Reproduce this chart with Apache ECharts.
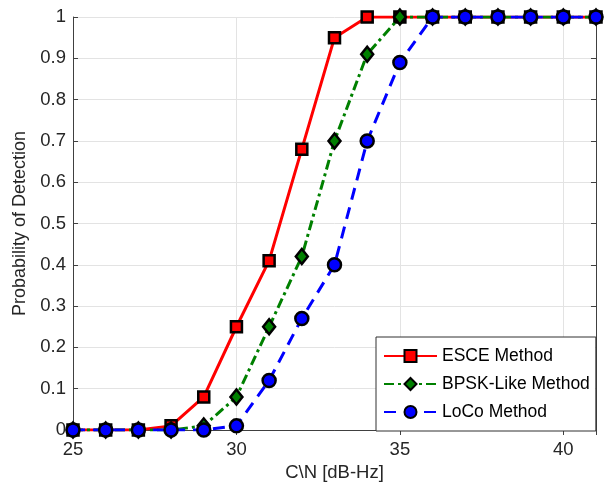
<!DOCTYPE html>
<html>
<head>
<meta charset="utf-8">
<script src="https://cdn.jsdelivr.net/npm/echarts@6/dist/echarts.min.js"></script>
<style>html,body{margin:0;padding:0;background:#fff}#c{width:612px;height:488px}</style>
</head>
<body>
<div id="c"></div>
<script>
const cn = [25,26,27,28,29,30,31,32,33,34,35,36,37,38,39,40,41];
const esce = [0,0,0,0.01,0.08,0.25,0.41,0.68,0.95,1,1,1,1,1,1,1,1];
const bpsk = [0,0,0,0,0.01,0.08,0.25,0.42,0.70,0.91,1,1,1,1,1,1,1];
const loco = [0,0,0,0,0,0.01,0.12,0.27,0.40,0.70,0.89,1,1,1,1,1,1];
const seriesNames = ['ESCE Method','BPSK-Like Method','LoCo Method'];
const xLabel = 'C\\N [dB-Hz]';
const yLabel = 'Probability of Detection';

const font = 'Liberation Sans, Arial, sans-serif';
const chart = echarts.init(document.getElementById('c'), null, {renderer:'canvas'});
function pts(arr){ return cn.map((x,i)=>[x,arr[i]]); }
const axisCommon = {
  axisLine:{show:true,lineStyle:{color:'#404040',width:1}},
  axisTick:{show:true,inside:true,length:5,lineStyle:{color:'#404040'}},
};
chart.setOption({
  animation:false,
  backgroundColor:'#fff',
  grid:{left:73,right:16,top:17,bottom:58,containLabel:false},
  xAxis:[{
    type:'value',min:25,max:41,interval:5,
    name:xLabel,nameLocation:'middle',nameGap:32,
    nameTextStyle:{fontFamily:font,fontSize:18.5,color:'#262626'},
    axisLabel:{fontFamily:font,fontSize:18.5,color:'#262626',showMaxLabel:false,margin:10},
    splitLine:{show:true,lineStyle:{color:'#e3e3e3',width:1}},
    ...axisCommon
  },{
    type:'value',min:25,max:41,interval:5,position:'top',
    axisLabel:{show:false},splitLine:{show:false},
    ...axisCommon
  }],
  yAxis:[{
    type:'value',min:0,max:1,interval:0.1,
    name:yLabel,nameLocation:'middle',nameGap:42,
    nameTextStyle:{fontFamily:font,fontSize:18,color:'#262626'},
    axisLabel:{fontFamily:font,fontSize:18.5,color:'#262626',margin:7},
    splitLine:{show:true,lineStyle:{color:'#e3e3e3',width:1}},
    ...axisCommon
  },{
    type:'value',min:0,max:1,interval:0.1,position:'right',
    axisLabel:{show:false},splitLine:{show:false},
    ...axisCommon
  }],
  legend:{
    orient:'vertical',left:376,top:337,
    padding:[10,6,10,7],itemGap:10,
    itemWidth:53,itemHeight:15,
    backgroundColor:'#fff',borderColor:'#303030',borderWidth:1,
    textStyle:{fontFamily:font,fontSize:17.5,color:'#000'},
    data:seriesNames
  },
  series:[
    {name:seriesNames[0],type:'line',data:pts(esce),symbol:'rect',symbolSize:11,
     lineStyle:{color:'#ff0000',width:3,type:'solid'},
     itemStyle:{color:'#ff0000',borderColor:'#000',borderWidth:2.5},z:2},
    {name:seriesNames[1],type:'line',data:pts(bpsk),symbol:'diamond',symbolSize:[12,15],
     lineStyle:{color:'#008000',width:3,type:[10,4,3,4]},
     itemStyle:{color:'#008000',borderColor:'#000',borderWidth:2.5},z:3},
    {name:seriesNames[2],type:'line',data:pts(loco),symbol:'circle',symbolSize:13,
     lineStyle:{color:'#0000ff',width:3,type:[12,8]},
     itemStyle:{color:'#0000ff',borderColor:'#000',borderWidth:2.5},z:4}
  ]
});
</script>
</body>
</html>
